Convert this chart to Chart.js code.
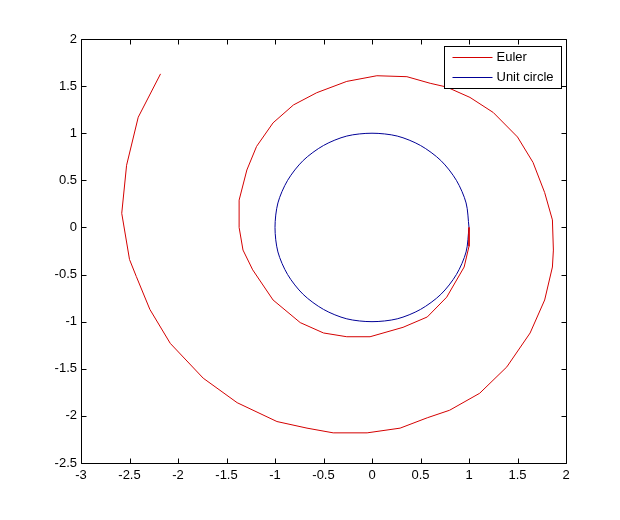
<html>
<head>
	<title>Euler</title>
	<script type="text/javascript" src="https://cdn.jsdelivr.net/npm/chart.js@4.4.0/dist/chart.umd.min.js"></script>
	<style type="text/css">
	body{
		margin: 0;
		background-color: #fff;
	}
	#chart{
		display: block;
	}
	</style>
</head>
<body>
	<canvas id="chart" width="620" height="520"></canvas>
	<script type="text/javascript">
	// points
	var eulerX = [1.00, 1.00, 0.95, 0.77, 0.57, 0.32, -0.02, -0.26, -0.50, -0.74, -1.02, -1.23, -1.33, -1.37,
		-1.37, -1.29, -1.19, -1.02, -0.81, -0.57, -0.26, 0.05, 0.36, 0.60, 0.77, 1.01, 1.25, 1.50, 1.66,
		1.78, 1.86, 1.87, 1.86, 1.78, 1.63, 1.39, 1.11, 0.80, 0.57, 0.29, -0.05, -0.40, -0.67, -0.98,
		-1.39, -1.74, -2.08, -2.29, -2.43, -2.50, -2.58, -2.53, -2.41, -2.18];
	var eulerY = [0.00, -0.20, -0.42, -0.74, -0.95, -1.06, -1.16, -1.16, -1.12, -1.01, -0.77, -0.45, -0.24, 0.00,
		0.29, 0.61, 0.86, 1.11, 1.30, 1.43, 1.55, 1.61, 1.60, 1.53, 1.49, 1.38, 1.22, 0.96, 0.69,
		0.37, 0.08, -0.24, -0.42, -0.77, -1.12, -1.48, -1.76, -1.94, -2.02, -2.13, -2.18, -2.18, -2.13, -2.06,
		-1.86, -1.60, -1.23, -0.87, -0.52, -0.34, 0.15, 0.66, 1.17, 1.63];
	var circleX = [1, 0.97, 0.87, 0.71, 0.5, 0.26, 0, -0.26, -0.5, -0.71, -0.87, -0.97, -1,
		-0.97, -0.87, -0.71, -0.5, -0.26, 0, 0.26, 0.5, 0.71, 0.87, 0.97, 1];
	var circleY = [0, 0.26, 0.5, 0.71, 0.87, 0.97, 1, 0.97, 0.87, 0.71, 0.5, 0.26, 0,
		-0.26, -0.5, -0.71, -0.87, -0.97, -1, -0.97, -0.87, -0.71, -0.5, -0.26, 0];
	var seriesNames = ["Euler", "Unit circle"];
	var seriesColors = ["#d40000", "#000096"];

	var fontStr = '13px Arial, "Liberation Sans", sans-serif';

	function toPoints(xs, ys){
		var pts = [];
		for(var i = 0; i < xs.length; i++){
			pts.push({x: xs[i], y: ys[i]});
		}
		return pts;
	}

	// matlab style box, inner ticks and legend
	var matlabFrame = {
		id: 'matlabFrame',
		afterDraw: function(chart){
			var ctx = chart.ctx;
			var a = chart.chartArea;
			var sx = chart.scales.x, sy = chart.scales.y;
			var L = Math.round(a.left) + 0.5, R = Math.round(a.right) + 0.5;
			var T = Math.round(a.top) + 0.5, B = Math.round(a.bottom) + 0.5;
			ctx.save();
			ctx.strokeStyle = '#000';
			ctx.lineWidth = 1;
			ctx.beginPath();
			ctx.rect(L, T, R - L, B - T);
			sx.ticks.forEach(function(t){
				var p = Math.round(sx.getPixelForValue(t.value)) + 0.5;
				ctx.moveTo(p, B); ctx.lineTo(p, B - 5);
				ctx.moveTo(p, T); ctx.lineTo(p, T + 5);
			});
			sy.ticks.forEach(function(t){
				var p = Math.round(sy.getPixelForValue(t.value)) + 0.5;
				ctx.moveTo(L, p); ctx.lineTo(L + 5, p);
				ctx.moveTo(R, p); ctx.lineTo(R - 5, p);
			});
			ctx.stroke();

			// legend
			var bw = 117, bh = 42;
			var bx = Math.round(a.right) - 5 - bw + 0.5;
			var by = Math.round(a.top) + 7 + 0.5;
			ctx.fillStyle = '#fff';
			ctx.fillRect(bx, by, bw, bh);
			ctx.strokeStyle = '#000';
			ctx.strokeRect(bx, by, bw, bh);
			ctx.font = fontStr;
			ctx.textBaseline = 'middle';
			ctx.textAlign = 'left';
			chart.data.datasets.forEach(function(ds, i){
				var yy = Math.round(by + 10.5 + i * 20) + 0.5;
				ctx.strokeStyle = ds.borderColor;
				ctx.beginPath();
				ctx.moveTo(bx + 8, yy);
				ctx.lineTo(bx + 48, yy);
				ctx.stroke();
				ctx.fillStyle = '#000';
				ctx.fillText(ds.label, bx + 52, yy);
			});
			ctx.restore();
		}
	};

	var canvas = document.getElementById('chart').getContext('2d');
	window.plot = new Chart(canvas, {
		type: 'scatter',
		data: {
			datasets: [{
				label: seriesNames[0],
				data: toPoints(eulerX, eulerY),
				showLine: true,
				borderColor: seriesColors[0],
				borderWidth: 1,
				pointRadius: 0,
				tension: 0
			}, {
				label: seriesNames[1],
				data: toPoints(circleX, circleY),
				showLine: true,
				borderColor: seriesColors[1],
				borderWidth: 1,
				pointRadius: 0,
				tension: 0.3
			}]
		},
		options: {
			responsive: false,
			animation: false,
			layout: {
				padding: {left: 0, top: 39, right: 54, bottom: 0}
			},
			plugins: {
				legend: {display: false},
				tooltip: {enabled: false}
			},
			scales: {
				x: {
					type: 'linear',
					min: -3,
					max: 2,
					afterFit: function(s){ s.height = 57; },
					grid: {display: false, drawTicks: false},
					border: {display: false},
					ticks: {
						stepSize: 0.5,
						padding: 5,
						color: '#000',
						font: {family: 'Arial, "Liberation Sans", sans-serif', size: 13},
						maxRotation: 0,
						autoSkip: false,
						callback: function(v){ return String(Math.round(v * 10) / 10); }
					}
				},
				y: {
					type: 'linear',
					min: -2.5,
					max: 2,
					afterFit: function(s){ s.width = 81; },
					grid: {display: false, drawTicks: false},
					border: {display: false},
					ticks: {
						stepSize: 0.5,
						padding: 4,
						color: '#000',
						font: {family: 'Arial, "Liberation Sans", sans-serif', size: 13},
						autoSkip: false,
						callback: function(v){ return String(Math.round(v * 10) / 10); }
					}
				}
			}
		},
		plugins: [matlabFrame]
	});
	</script>
</body>
</html>
